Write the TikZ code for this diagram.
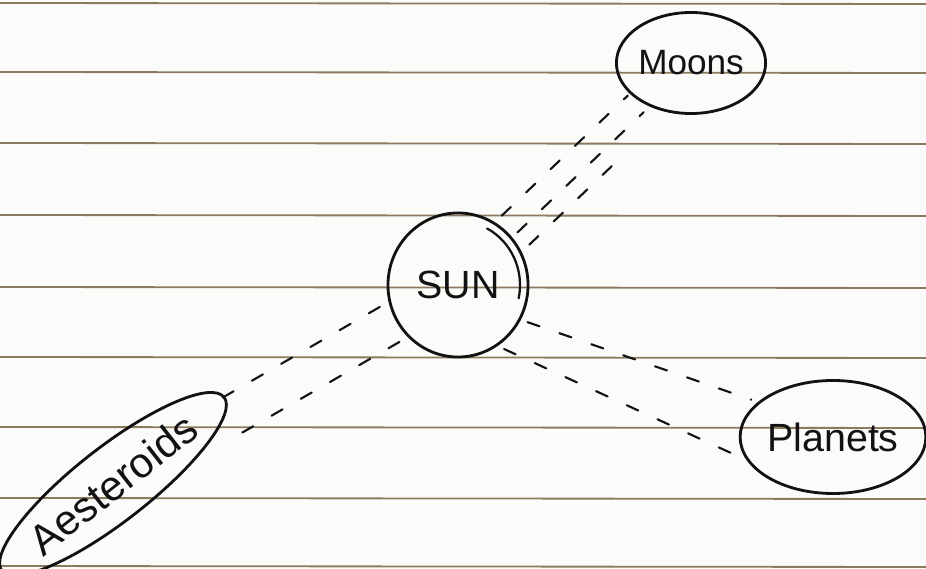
\documentclass[tikz,border=0pt]{standalone}
\usepackage{fontspec}
\setmainfont{Liberation Sans}
\usetikzlibrary{shapes.geometric}
\definecolor{paperline}{HTML}{8A7B5E}
\definecolor{paper}{HTML}{FBFBF9}
\definecolor{ink}{HTML}{121212}
\tikzset{
  bubble/.style={ellipse, draw=ink, line width=2pt, inner sep=0pt, text=ink},
  conn/.style={draw=ink, line width=1.5pt, line cap=round, dash pattern=on 9pt off 15pt, shorten >=5pt, shorten <=5pt},
  ruling/.style={draw=paperline, line width=1.3pt}
}
\begin{document}
\begin{tikzpicture}[x=0.025cm,y=-0.025cm]
\fill[paper] (0,0) rectangle (926,569);
\useasboundingbox (0,0) rectangle (926,569);
% ruled paper
\foreach \yy in {3,72,143,215,287,357,427,498,566}
  \draw[ruling] (0,\yy) -- (926,\yy+1);
% nodes
\node[bubble, minimum width=3.5cm, minimum height=3.6cm, font=\fontsize{28}{30}\selectfont] (sun) at (458,285) {SUN};
\node[bubble, minimum width=3.675cm, minimum height=2.525cm, font=\fontsize{25}{28}\selectfont] (moons) at (691,63) {Moons};
\node[bubble, minimum width=4.1cm, minimum height=2.825cm, font=\fontsize{28}{30}\selectfont] (planets) at (833,437) {Planets};
\node[bubble, minimum width=6.2cm, minimum height=1.85cm, rotate=38, font=\fontsize{30}{32}\selectfont] (ast) at (113,484) {Aesteroids};
% second stroke on the sun's upper right rim
\draw[ink, line width=1.6pt, line cap=round] (sun.center) ++(-62:62 and 64) arc[start angle=-62, end angle=12, x radius=62, y radius=64];
% connectors (dashed strips)
\draw[conn, transform canvas={shift={(-13.8,-14.5)}}] (sun) -- (moons);
\draw[conn, transform canvas={shift={(2,2.2)}}] (sun) -- (moons);
\draw[conn, shorten >=35pt, transform canvas={shift={(13.8,14.5)}}] (sun) -- (moons);
\draw[conn] (sun.-29) -- (planets.155);
\draw[conn] (sun.-57) -- (planets.195);
\draw[conn, transform canvas={shift={(9.8,17.5)}}] (sun) -- (ast);
\draw[conn, transform canvas={shift={(-9.8,-17.5)}}] (sun) -- (ast);
\end{tikzpicture}
\end{document}
